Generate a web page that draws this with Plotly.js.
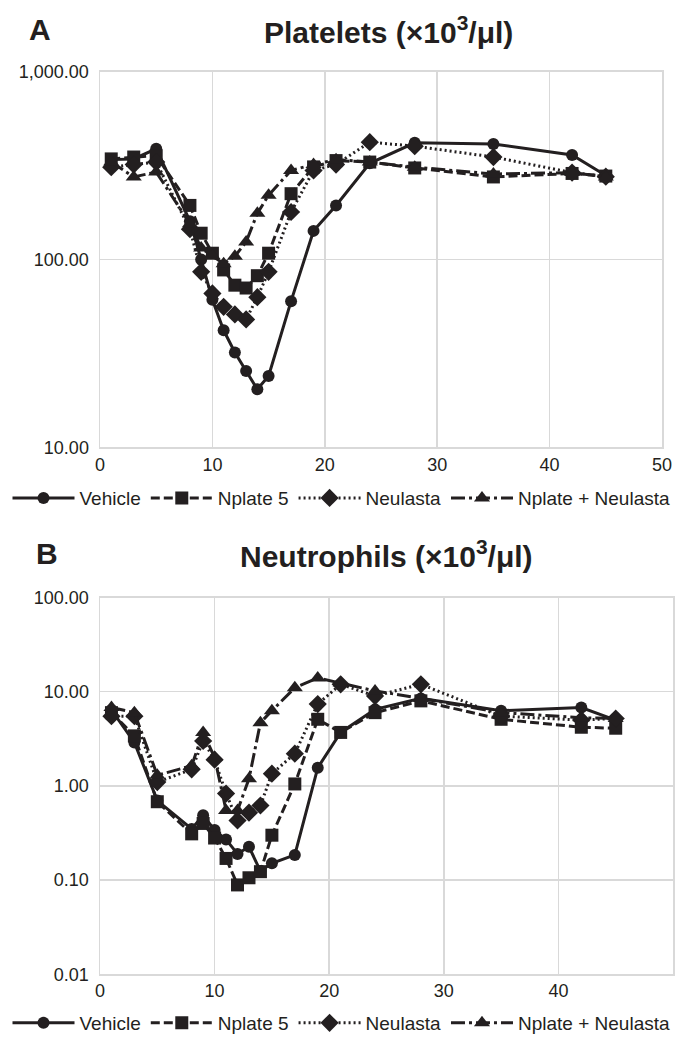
<!DOCTYPE html>
<html>
<head>
<meta charset="utf-8">
<script src="https://cdn.plot.ly/plotly-3.0.1.min.js"></script>
<style>html,body{margin:0;padding:0;background:#fff;}#chart{width:683px;height:1042px;}</style>
</head>
<body>
<div id="chart"></div>
<script>
// Days of measurement
const days = [1, 3, 5, 8, 9, 10, 11, 12, 13, 14, 15, 17, 19, 21, 24, 28, 35, 42, 45];

// Panel A: Platelets (x10^3/ul)
const vehicleA  = [340, 343, 388, 160, 100, 61, 42, 32, 25.5, 20.4, 24, 60, 142, 194, 325, 418, 412, 360, 280];
const nplateA   = [343, 351, 357, 194, 138, 108, 88, 73, 70.5, 82, 108, 224, 311, 336, 330, 307, 275, 287, 278];
const neulastaA = [310, 320, 330, 145, 86, 66, 56, 51, 48, 63, 86, 179, 298, 320, 421, 401, 351, 290, 276];
const comboA    = [330, 275, 292, 155, 115, 105, 95, 104, 124, 176, 220, 298, 320, 340, 330, 310, 285, 290, 275];

// Panel B: Neutrophils (x10^3/ul)
const vehicleB  = [6.4, 2.9, 0.70, 0.35, 0.49, 0.34, 0.27, 0.19, 0.226, 0.125, 0.151, 0.185, 1.56, 3.7, 6.5, 8.5, 6.3, 6.8, 5.0];
const nplateB   = [6.0, 3.4, 0.68, 0.31, 0.40, 0.28, 0.17, 0.089, 0.106, 0.123, 0.30, 1.05, 5.1, 3.7, 6.0, 8.0, 5.1, 4.2, 4.1];
const neulastaB = [5.5, 5.5, 1.1, 1.5, 3.0, 1.9, 0.83, 0.43, 0.52, 0.62, 1.35, 2.2, 7.4, 12, 9.0, 12, 5.5, 5.0, 5.2];
const comboB    = [6.8, 6.0, 1.3, 1.64, 3.7, 2.0, 0.55, 0.55, 1.19, 4.7, 6.3, 11, 14, 12.4, 10.2, 8.5, 6.0, 5.3, 5.2];

// Series names and tick labels
const seriesNames = ['Vehicle', 'Nplate 5', 'Neulasta', 'Nplate + Neulasta'];
const yTickValsA = [10, 100, 1000];
const yTickTextA = ['10.00', '100.00', '1,000.00'];
const yTickValsB = [0.01, 0.1, 1, 10, 100];
const yTickTextB = ['0.01', '0.10', '1.00', '10.00', '100.00'];
const xTickVals = [0, 10, 20, 30, 40, 50];

const INK = '#231f20';
const styles = [
  {symbol: 'circle', size: 12, dash: 'solid'},
  {symbol: 'square', size: 13, dash: '9px,4px'},
  {symbol: 'diamond', size: 14, dash: '2px,3px'},
  {symbol: 'triangle-up', size: 14, dash: '14px,4px,3px,4px'}
];

function mk(y, i, xa, ya, lg) {
  return {
    x: days, y: y, type: 'scatter', mode: 'lines+markers',
    name: seriesNames[i], xaxis: xa, yaxis: ya, legend: lg,
    line: {color: INK, width: 3, dash: styles[i].dash},
    marker: {color: INK, symbol: styles[i].symbol, size: styles[i].size, line: {width: 0}},
    cliponaxis: false
  };
}

const A = [vehicleA, nplateA, neulastaA, comboA];
const B = [vehicleB, nplateB, neulastaB, comboB];
const data = [];
A.forEach((y, i) => data.push(mk(y, i, 'x', 'y', 'legend')));
B.forEach((y, i) => data.push(mk(y, i, 'x2', 'y2', 'legend2')));

const W = 683, H = 1042;
const px = v => v / W, py = v => 1 - v / H;
const grid = '#d9d9d9';
const tickFont = {family: 'Liberation Sans, Arial, sans-serif', size: 18, color: INK};

const xBase = {
  range: [0, 50], tickvals: xTickVals, ticktext: xTickVals.map(String),
  showgrid: true, gridcolor: grid, gridwidth: 1.5, zeroline: false,
  showline: true, linecolor: grid, linewidth: 1.5, mirror: true,
  ticks: '', tickfont: tickFont, fixedrange: true
};
const yBase = {
  type: 'log', showgrid: true, gridcolor: grid, gridwidth: 1.5, zeroline: false,
  showline: true, linecolor: grid, linewidth: 1.5, mirror: true,
  ticks: '', tickfont: tickFont, ticklabelstandoff: 6, fixedrange: true
};

const titleFont = {family: 'Liberation Sans, Arial, sans-serif', size: 30, color: INK, weight: 'bold'};
const legFont = {family: 'Liberation Sans, Arial, sans-serif', size: 19, color: INK};

const legBase = {orientation: 'h', x: 0.5, xanchor: 'center', yanchor: 'middle', font: legFont, itemwidth: 62, tracegroupgap: 0, bgcolor: 'rgba(0,0,0,0)'};

const layout = {
  width: W, height: H,
  margin: {l: 0, r: 0, t: 0, b: 0},
  paper_bgcolor: '#fff', plot_bgcolor: '#fff',
  showlegend: true,
  xaxis: Object.assign({}, xBase, {domain: [px(100), px(662)], anchor: 'y'}),
  yaxis: Object.assign({}, yBase, {domain: [py(450), py(72)], range: [1, 3], tickvals: yTickValsA, ticktext: yTickTextA, anchor: 'x'}),
  xaxis2: Object.assign({}, xBase, {domain: [px(100), px(673)], anchor: 'y2'}),
  yaxis2: Object.assign({}, yBase, {domain: [py(980), py(601)], range: [-2, 2], tickvals: yTickValsB, ticktext: yTickTextB, anchor: 'x2'}),
  legend: Object.assign({}, legBase, {y: py(501)}),
  legend2: Object.assign({}, legBase, {y: py(1029)}),
  annotations: [
    {text: 'A', xref: 'paper', yref: 'paper', x: px(40), y: py(30), showarrow: false, font: titleFont, xanchor: 'center', yanchor: 'middle'},
    {text: 'Platelets (×10<sup>3</sup>/μl)', xref: 'paper', yref: 'paper', x: px(388), y: py(30), showarrow: false, font: titleFont, xanchor: 'center', yanchor: 'middle'},
    {text: 'B', xref: 'paper', yref: 'paper', x: px(47), y: py(557), showarrow: false, font: titleFont, xanchor: 'center', yanchor: 'middle'},
    {text: 'Neutrophils (×10<sup>3</sup>/μl)', xref: 'paper', yref: 'paper', x: px(386), y: py(557), showarrow: false, font: titleFont, xanchor: 'center', yanchor: 'middle'}
  ]
};

Plotly.newPlot('chart', data, layout, {displayModeBar: false, staticPlot: true});
</script>
</body>
</html>
